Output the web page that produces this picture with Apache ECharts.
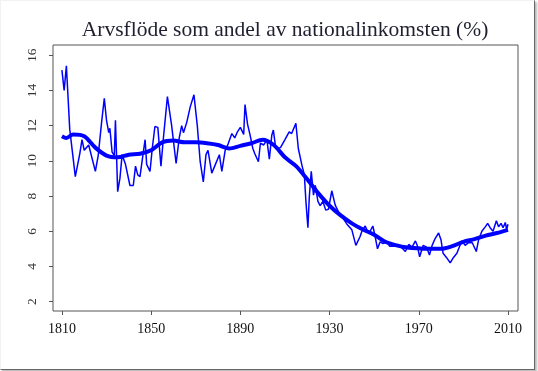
<!DOCTYPE html>
<html>
<head>
<meta charset="utf-8">
<script src="https://cdn.jsdelivr.net/npm/echarts@6/dist/echarts.min.js"></script>
<style>
html,body{margin:0;padding:0;background:#fff;}
#frame{position:absolute;left:0;top:0;width:533px;height:368px;border-top:1px solid #f2f2f2;border-left:1px solid #f2f2f2;border-right:1px solid #666;border-bottom:1px solid #666;box-shadow:2px 2px 2px #bbb;box-sizing:content-box;}
#chart{position:absolute;left:0;top:0;width:538px;height:371px;}
</style>
</head>
<body>
<div id="frame"></div>
<div id="chart"></div>
<script>
const titleText = 'Arvsflöde som andel av nationalinkomsten (%)';
const xTicks = [1810, 1850, 1890, 1930, 1970, 2010];
const yTicks = [2, 4, 6, 8, 10, 12, 14, 16];

const rawYears = [1810,1811,1812,1813.5,1816,1818,1819,1820,1822,1825,1826.3,1827.8,1829,1830,1831,1831.5,1832.5,1833.5,1834,1835,1836,1837,1838.5,1840.5,1842,1843,1844,1845,1846.5,1847.3,1848,1849.5,1850.5,1851.7,1853,1854.4,1855.5,1857.3,1859.2,1861.2,1862.6,1863.7,1864.5,1866,1867.5,1869.2,1870.7,1872,1873.4,1874.6,1875.5,1877.2,1878.5,1880.6,1881.7,1883.2,1884.5,1886.2,1887.5,1888.7,1890,1890.7,1891.5,1892.1,1893.2,1894.4,1895.6,1896.5,1898.1,1899,1900.5,1901.9,1903,1904.1,1904.8,1905.9,1908,1910,1911.9,1913,1914.9,1916,1917.6,1918.7,1919.4,1920.3,1920.9,1921.8,1922.8,1923.6,1924.8,1925.8,1927,1928.3,1929.5,1931,1932.5,1934,1935.5,1937.8,1940,1941.8,1943.7,1944.5,1946,1947,1948.2,1949.4,1950.3,1951.5,1952.7,1954,1955.7,1957,1958.7,1960.5,1962.5,1964,1965.5,1967,1968.5,1969.3,1970.4,1972,1973.5,1974.8,1976,1977.4,1978.9,1980,1980.9,1982.5,1984.1,1985.5,1987.1,1988.5,1989.4,1990.8,1992.3,1994,1995.8,1996.8,1998.3,1999.8,2000.9,2002,2003.3,2004.8,2005.8,2006.9,2007.8,2008.8,2009.4,2010];
const rawValues = [15.15,14.0,15.4,11.8,9.1,10.4,11.2,10.6,10.9,9.4,10.33,12.2,13.55,12.3,11.6,11.85,10.5,10.3,12.3,8.25,9.0,10.35,9.8,8.6,8.6,9.7,9.2,9.1,10.5,11.2,9.8,9.4,10.7,11.95,11.9,9.7,11.3,13.65,12.0,9.85,11.3,12.0,11.6,12.2,13.05,13.75,12.0,9.95,8.8,10.35,10.6,9.3,9.7,10.35,9.4,10.6,10.95,11.55,11.3,11.65,11.9,12.0,11.5,13.2,12.1,11.45,10.7,10.4,9.95,11.0,10.9,11.2,10.1,11.45,11.75,10.7,10.75,11.2,11.65,11.55,12.13,10.7,9.76,9.2,7.7,6.2,7.9,9.4,8.05,8.6,7.7,7.45,7.7,7.2,7.25,8.3,7.5,7.1,6.85,6.4,6.08,5.2,5.7,6.0,6.3,6.0,6.0,6.3,5.8,5.0,5.4,5.3,5.4,5.15,5.15,5.25,5.05,4.85,5.25,5.1,5.45,5.2,4.55,5.2,5.1,4.65,5.2,5.6,5.9,5.5,4.75,4.5,4.2,4.5,4.75,5.2,5.45,5.2,5.35,5.35,4.85,5.5,6.0,6.25,6.45,6.2,6.0,6.6,6.25,6.45,6.2,6.5,6.1,6.4];

const smoothYears = [1810,1812,1815,1820,1825,1830,1835,1840,1845,1850,1855,1860,1865,1870,1875,1880,1885,1890,1895,1900,1905,1910,1915,1920,1925,1930,1935,1940,1945,1950,1955,1960,1965,1970,1975,1980,1985,1990,1995,2000,2005,2010];
const smoothValues = [11.4,11.3,11.5,11.4,10.75,10.3,10.2,10.35,10.4,10.6,11.05,11.15,11.05,11.05,11.0,10.9,10.7,10.85,11.0,11.2,10.9,10.2,9.7,8.95,8.15,7.45,6.9,6.45,6.1,5.8,5.4,5.2,5.08,5.03,5.0,5.0,5.15,5.4,5.55,5.75,5.9,6.08];

const chart = echarts.init(document.getElementById('chart'), null, {renderer: 'canvas'});
const font = '"Liberation Serif", "Times New Roman", serif';
chart.setOption({
  animation: false,
  backgroundColor: 'transparent',
  title: {
    text: titleText,
    left: 280, textAlign: 'center', top: 14,
    textStyle: {fontFamily: font, fontSize: 21.5, fontWeight: 'normal', color: '#1f1f2f'}
  },
  grid: {left: 53, right: 20, top: 45, bottom: 60, show: true, borderColor: '#555', borderWidth: 1, backgroundColor: 'transparent'},
  xAxis: {
    type: 'value', min: 1806, max: 2014.5,
    axisLine: {show: false},
    splitLine: {show: false},
    axisTick: {show: true, inside: false, length: 4, customValues: xTicks, lineStyle: {color: '#555'}},
    axisLabel: {customValues: xTicks, margin: 11, fontFamily: font, fontSize: 14, color: '#111', formatter: v => String(v)}
  },
  yAxis: {
    type: 'value', min: 1.47, max: 16.58,
    axisLine: {show: false},
    splitLine: {show: false},
    axisTick: {show: true, inside: false, length: 4, customValues: yTicks, lineStyle: {color: '#555'}},
    axisLabel: {customValues: yTicks, rotate: 90, margin: 14, fontFamily: font, fontSize: 13.5, color: '#333', formatter: v => String(v)}
  },
  series: [
    {type: 'line', data: rawYears.map((y, i) => [y, rawValues[i]]), showSymbol: false, lineStyle: {color: '#0000ff', width: 1.5}, z: 2},
    {type: 'line', data: smoothYears.map((y, i) => [y, smoothValues[i]]), smooth: 0.3, showSymbol: false, lineStyle: {color: '#0000ff', width: 4}, z: 3}
  ]
});
</script>
</body>
</html>
